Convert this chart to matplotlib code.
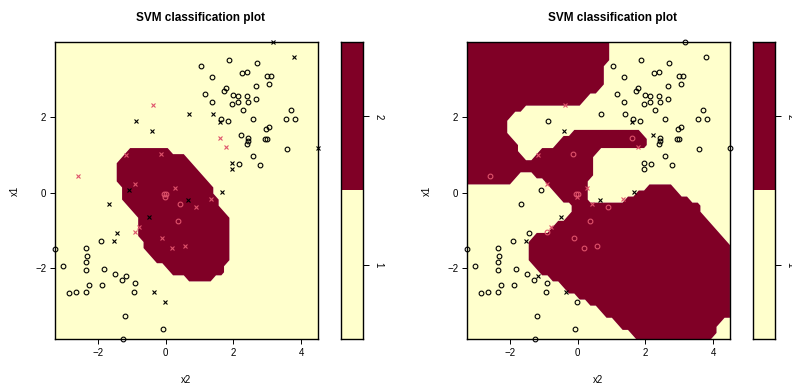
import numpy as np
import matplotlib
matplotlib.use("Agg")
import matplotlib.pyplot as plt
from matplotlib.path import Path

plt.rcParams['font.family'] = ['Liberation Sans', 'DejaVu Sans']

# training points: x2 on the horizontal axis, x1 on the vertical one
x2 = [3.16, 3.80, 1.86, 1.04, 2.71, 1.36, 2.27, 2.40, 3.00, 3.12,
      2.67, 3.04, 1.77, 1.73, 1.17, 1.98, 2.15, 2.39, 2.68, 1.38,
      1.96, 2.15, 2.44, 2.30, 3.71, 3.55, 3.83, 2.59, 1.63, 1.85,
      1.60, 0.70, 1.40, -0.39, -0.87, 2.97, 3.06, 2.23, 2.42, 2.43,
      2.41, 2.94, 2.98, 3.60, 4.50, 2.59, 1.97, 1.96, 2.18, 2.78,
      -1.07, 0.65, 1.67, -1.66, -0.48, -1.43, -1.52, -1.91, -3.27, -2.36,
      -2.32, -2.36, -3.03, -2.35, -1.81, -1.49, -1.30, -1.18, -0.91, -2.27,
      -1.88, -2.86, -2.64, -2.34, -0.94, -0.33, -0.01, -1.19, -0.09, -1.25,
      -0.37, -2.58, -1.17, -0.15, 1.61, 1.78, -0.90, 0.29, -0.04, 0.01,
      -0.03, 0.41, 0.89, 1.34, 0.36, -0.80, -0.90, -0.10, 0.18, 0.57]
x1 = [4.00, 3.60, 3.52, 3.35, 3.43, 3.07, 3.17, 3.19, 3.11, 3.09,
      2.83, 2.88, 2.77, 2.69, 2.61, 2.59, 2.57, 2.57, 2.48, 2.40,
      2.35, 2.41, 2.40, 2.19, 2.19, 1.95, 1.95, 1.95, 1.95, 1.89,
      1.87, 2.09, 2.09, 1.63, 1.89, 1.69, 1.73, 1.52, 1.44, 1.37,
      1.28, 1.42, 1.42, 1.15, 1.18, 0.97, 0.78, 0.62, 0.75, 0.73,
      0.08, -0.20, 0.01, -0.31, -0.65, -1.07, -1.28, -1.29, -1.50, -1.47,
      -1.69, -1.84, -1.95, -2.06, -2.03, -2.17, -2.32, -2.22, -2.40, -2.46,
      -2.46, -2.67, -2.64, -2.64, -2.63, -2.64, -2.91, -3.28, -3.62, -3.89,
      2.32, 0.44, 0.99, 1.02, 1.44, 1.20, 0.22, 0.12, -0.04, -0.03,
      -0.13, -0.31, -0.38, -0.18, -0.76, -0.91, -1.04, -1.21, -1.47, -1.42]
y = [1] * 80 + [2] * 20

# support vectors (drawn as "x") for the cost=1 fit and the cost=1e5 fit
sv_low = [1, 1, 0, 0, 0, 0, 0, 0, 0, 0,
          0, 0, 0, 0, 0, 0, 0, 0, 0, 0,
          0, 0, 0, 0, 0, 0, 0, 0, 0, 0,
          1, 1, 1, 1, 1, 0, 0, 0, 0, 0,
          0, 0, 0, 0, 1, 0, 1, 1, 0, 0,
          1, 1, 1, 1, 1, 1, 1, 0, 0, 0,
          0, 0, 0, 0, 0, 0, 0, 0, 0, 0,
          0, 0, 0, 0, 0, 1, 1, 0, 0, 0,
          1, 1, 1, 1, 1, 1, 1, 1, 0, 0,
          0, 0, 1, 1, 0, 1, 1, 1, 1, 1]
sv_high = [0, 0, 0, 0, 0, 0, 0, 0, 0, 0,
           0, 0, 0, 0, 0, 0, 0, 0, 0, 0,
           0, 0, 0, 0, 0, 0, 0, 0, 0, 0,
           1, 0, 0, 1, 0, 0, 0, 1, 0, 0,
           0, 0, 0, 0, 0, 0, 0, 0, 0, 0,
           0, 1, 1, 0, 1, 0, 1, 0, 0, 0,
           0, 0, 0, 0, 0, 0, 0, 1, 0, 0,
           0, 0, 0, 0, 0, 1, 0, 0, 0, 0,
           1, 0, 1, 0, 0, 1, 1, 1, 0, 0,
           1, 1, 0, 1, 0, 1, 0, 0, 0, 0]

# outline of the area predicted as class 2 (x2, x1)
region_low = [(-0.89, 1.24), (0.05, 1.24), (0.15, 1.11), (0.45, 1.02), (0.79, 0.75),
              (1.09, 0.49), (1.34, 0.22), (1.49, -0.18), (1.68, -0.49), (1.83, -0.70),
              (1.83, -1.19), (1.98, -1.37), (1.83, -1.86), (1.68, -2.15), (1.34, -2.31),
              (0.69, -2.31), (0.20, -2.12), (0.00, -1.99), (-0.30, -1.77), (-0.59, -1.55),
              (-0.59, -1.37), (-0.74, -1.15), (-0.89, -0.66), (-1.07, -0.35), (-1.22, -0.22),
              (-1.37, 0.27), (-1.37, 0.93), (-1.19, 1.06)]
region_high = [(-6, 6), (1.01, 6), (1.01, 3.80), (0.86, 3.67), (0.86, 3.41), (0.71, 3.27),
               (0.71, 2.83), (0.42, 2.61), (0.17, 2.36), (-1.42, 2.36), (-1.57, 2.25),
               (-1.82, 2.12), (-2.01, 1.90), (-2.01, 1.59), (-1.87, 1.37), (-1.72, 1.02),
               (-1.57, 0.93), (-1.37, 0.93), (-1.22, 1.03), (-1.02, 1.15), (-0.73, 1.24),
               (-0.43, 1.42), (-0.23, 1.55), (0.02, 1.72), (1.76, 1.72), (1.95, 1.55),
               (2.15, 1.37), (2.10, 1.19), (1.95, 1.15), (1.85, 1.22), (0.75, 1.22),
               (0.62, 1.06), (0.52, 0.93), (0.48, 0.55), (0.38, 0.44), (0.23, 0.22),
               (0.23, -0.31), (0.97, -0.31), (1.07, -0.22), (1.47, -0.18), (1.67, -0.04),
               (1.95, 0.13), (2.30, 0.27), (2.60, 0.27), (2.95, 0.05), (3.24, -0.13),
               (3.44, -0.22), (3.74, -0.57), (4.09, -0.93), (4.24, -1.06), (4.43, -1.37),
               (6, -1.46), (6, -3.14), (4.34, -3.27), (4.24, -3.45), (4.09, -3.62),
               (3.94, -3.90), (3.90, -6), (1.76, -6), (1.76, -3.90), (1.46, -3.67),
               (0.96, -3.32), (0.57, -3.09), (0.07, -2.79), (-0.43, -2.52), (-0.82, -2.25),
               (-1.17, -2.12), (-1.37, -1.86), (-1.37, -1.19), (-1.02, -1.10), (-0.82, -1.02),
               (-0.62, -0.84), (-0.28, -0.66), (-0.12, -0.55), (-0.12, -0.42), (-0.27, -0.31),
               (-0.62, -0.09), (-0.91, 0.18), (-1.36, 0.58), (-1.66, 0.53), (-2.00, 0.27),
               (-3.00, 0.27), (-6, 0.41)]

classes = [1, 2]
fill_cols = ['#FFFFCC', '#800026']
point_cols = {1: 'black', 2: '#DF536B'}

x2 = np.array(x2)
x1 = np.array(x1)
y = np.array(y)

fig = plt.figure(figsize=(7.92, 3.9), dpi=100)


def svm_panel(ax_left, key_left, region, sv, title_x):
    ax = fig.add_axes([ax_left, 0.1308, 0.332, 0.7615])
    # 50 x 50 prediction grid over the data range
    g2 = np.linspace(x2.min(), x2.max(), 50)
    g1 = np.linspace(x1.min(), x1.max(), 50)
    G2, G1 = np.meshgrid(g2, g1)
    inside = Path(region).contains_points(np.c_[G2.ravel(), G1.ravel()])
    Z = np.where(inside, 2, 1).reshape(G2.shape)
    ax.contourf(G2, G1, Z, levels=[0.5, 1.5, 2.5], colors=fill_cols, antialiased=True)

    sv = np.array(sv, dtype=bool)
    for c in classes:
        m = y == c
        ax.plot(x2[m & ~sv], x1[m & ~sv], 'o', ms=3.4, mew=0.8, mfc='none',
                mec=point_cols[c], clip_on=False)
        ax.plot(x2[m & sv], x1[m & sv], 'x', ms=3.4, mew=0.8,
                color=point_cols[c], clip_on=False)

    ax.set_xlim(x2.min(), x2.max())
    ax.set_ylim(x1.min(), x1.max())
    ax.set_xticks([-2, 0, 2, 4])
    ax.set_yticks([-2, 0, 2])
    ax.tick_params(direction='out', length=3.8, width=0.7, labelsize=7, pad=2.5)
    for s in ax.spines.values():
        s.set_linewidth(1.0)
    ax.set_xlabel('x2', fontsize=7)
    ax.set_ylabel('x1', fontsize=7)
    ax.xaxis.set_label_coords(0.5, -0.12)
    ax.yaxis.set_label_coords(-0.135, 0.5)

    # class key
    cax = fig.add_axes([key_left, 0.1308, 0.0285, 0.7615])
    for c, col in zip(classes, fill_cols):
        cax.axhspan(c - 0.5, c + 0.5, color=col, lw=0)
    cax.set_ylim(0.5, 2.5)
    cax.set_xlim(0, 1)
    cax.set_xticks([])
    cax.yaxis.tick_right()
    cax.set_yticks(classes)
    cax.set_yticklabels([str(c) for c in classes], rotation=270, va='center')
    cax.tick_params(axis='y', direction='out', length=4.5, width=0.7, labelsize=7, pad=3)
    for s in cax.spines.values():
        s.set_linewidth(1.0)

    fig.text(title_x, 1 - 18 / 390, 'SVM classification plot', ha='center', va='center',
             fontsize=8.5, fontweight='bold')


svm_panel(55 / 792, 340.7 / 792, region_low, sv_low, 200 / 792)
svm_panel(467 / 792, 752.7 / 792, region_high, sv_high, 613 / 792)

fig.savefig('out.png', dpi=100)
